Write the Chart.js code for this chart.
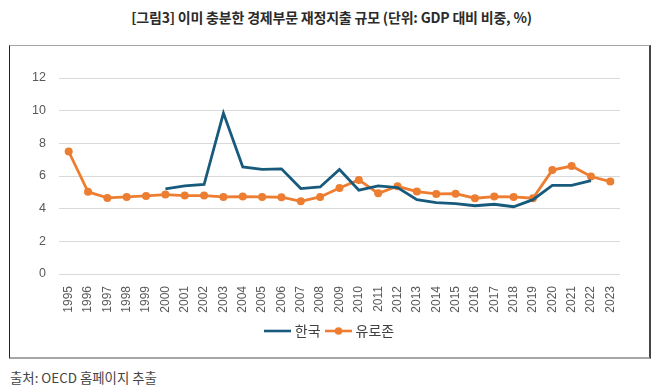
<!DOCTYPE html>
<html><head><meta charset="utf-8">
<script src="https://cdn.jsdelivr.net/npm/chart.js@4"></script>
<style>
html,body{margin:0;padding:0;background:#fff;}
body{width:663px;height:392px;position:relative;overflow:hidden;font-family:"Noto Sans CJK KR","Noto Sans",sans-serif;}
#title{position:absolute;left:0;top:7px;width:663px;text-align:center;font-size:14px;font-weight:700;color:#2b2b2b;letter-spacing:-0.2px;}
#frame{position:absolute;left:9px;top:45px;width:639px;height:311px;border-top:1px solid #a6a6a6;border-bottom:2px solid #a6a6a6;border-left:1px solid #222;border-right:2px solid #444;}
#wrap{position:absolute;left:0;top:0;width:639px;height:311px;}
#src{position:absolute;left:10px;top:367px;font-size:13.4px;color:#444;}
</style></head>
<body>
<div id="title">[그림3] 이미 충분한 경제부문 재정지출 규모 (단위: GDP 대비 비중, %)</div>
<div id="frame"><div id="wrap"><canvas id="c" width="639" height="311"></canvas></div></div>
<div id="src">출처: OECD 홈페이지 추출</div>
<script>
const years = ["1995","1996","1997","1998","1999","2000","2001","2002","2003","2004","2005","2006","2007","2008","2009","2010","2011","2012","2013","2014","2015","2016","2017","2018","2019","2020","2021","2022","2023"];
const korea = [null,null,null,null,null,5.21,5.39,5.48,9.85,6.56,6.40,6.44,5.23,5.33,6.40,5.13,5.39,5.29,4.55,4.37,4.31,4.18,4.27,4.12,4.55,5.42,5.42,5.72,null];
const eurozone = [7.50,5.03,4.66,4.72,4.78,4.86,4.80,4.80,4.72,4.74,4.72,4.70,4.45,4.72,5.27,5.76,4.94,5.37,5.05,4.90,4.92,4.64,4.74,4.72,4.64,6.36,6.61,5.97,5.66];
const yTicks = [0,2,4,6,8,10,12];

const KC = '#175a7c', EC = '#ed7d31';
function legendIcon(withDot, color){
  const c = document.createElement('canvas'); c.width = 27; c.height = 10;
  const g = c.getContext('2d');
  g.strokeStyle = color; g.lineWidth = 2.6;
  g.beginPath(); g.moveTo(0,5); g.lineTo(27,5); g.stroke();
  if (withDot){ g.fillStyle = color; g.beginPath(); g.arc(13.5,5,3.8,0,Math.PI*2); g.fill(); }
  return c;
}
const icons = [legendIcon(false,KC), legendIcon(true,EC)];

const legendShift = {
  id: 'legendShift',
  afterLayout(chart){ if (chart.legend) chart.legend.left += 32; }
};

new Chart(document.getElementById('c'), {
  type: 'line',
  data: {
    labels: years,
    datasets: [
      {label:'한국', data: korea, borderColor: KC, backgroundColor: KC, borderWidth: 2.8, pointRadius: 0, tension: 0, spanGaps: false},
      {label:'유로존', data: eurozone, borderColor: EC, backgroundColor: EC, borderWidth: 2.8, pointRadius: 4, pointBackgroundColor: EC, pointBorderWidth: 0, tension: 0}
    ]
  },
  plugins: [legendShift],
  options: {
    responsive: false, animation: false,
    layout: {padding: {top: 32, right: 29, left: 0, bottom: 9}},
    plugins: {
      tooltip: {enabled:false},
      legend: {
        position: 'bottom',
        labels: {
          usePointStyle: true,
          pointStyleWidth: 20,
          font: {size: 14, family: '"Noto Sans CJK KR", sans-serif'},
          color: '#404040',
          padding: 8,
          generateLabels: (chart) => chart.data.datasets.map((d,i)=>({
            text: d.label, pointStyle: icons[i], fontColor: '#404040', datasetIndex: i, lineWidth: 0, strokeStyle: 'transparent', fillStyle: 'transparent'
          }))
        }
      }
    },
    scales: {
      x: {
        offset: true,
        grid: {display: false},
        border: {display: false},
        ticks: {minRotation: 90, maxRotation: 90, autoSkip: false, color: '#595959', font: {size: 12, family: '"Liberation Sans", Arial, sans-serif'}, padding: 4},
        afterFit: (s) => { s.height = 42; }
      },
      y: {
        min: 0, max: 12,
        afterBuildTicks: (s) => { s.ticks = yTicks.map(v => ({value: v})); },
        grid: {color: '#d9d9d9', lineWidth: 1, drawTicks: false},
        border: {display: false},
        ticks: {color: '#595959', font: {size: 12.5, family: '"Liberation Sans", Arial, sans-serif'}, padding: 13},
        afterFit: (s) => { s.width = 49; }
      }
    }
  }
});
</script>
</body></html>
